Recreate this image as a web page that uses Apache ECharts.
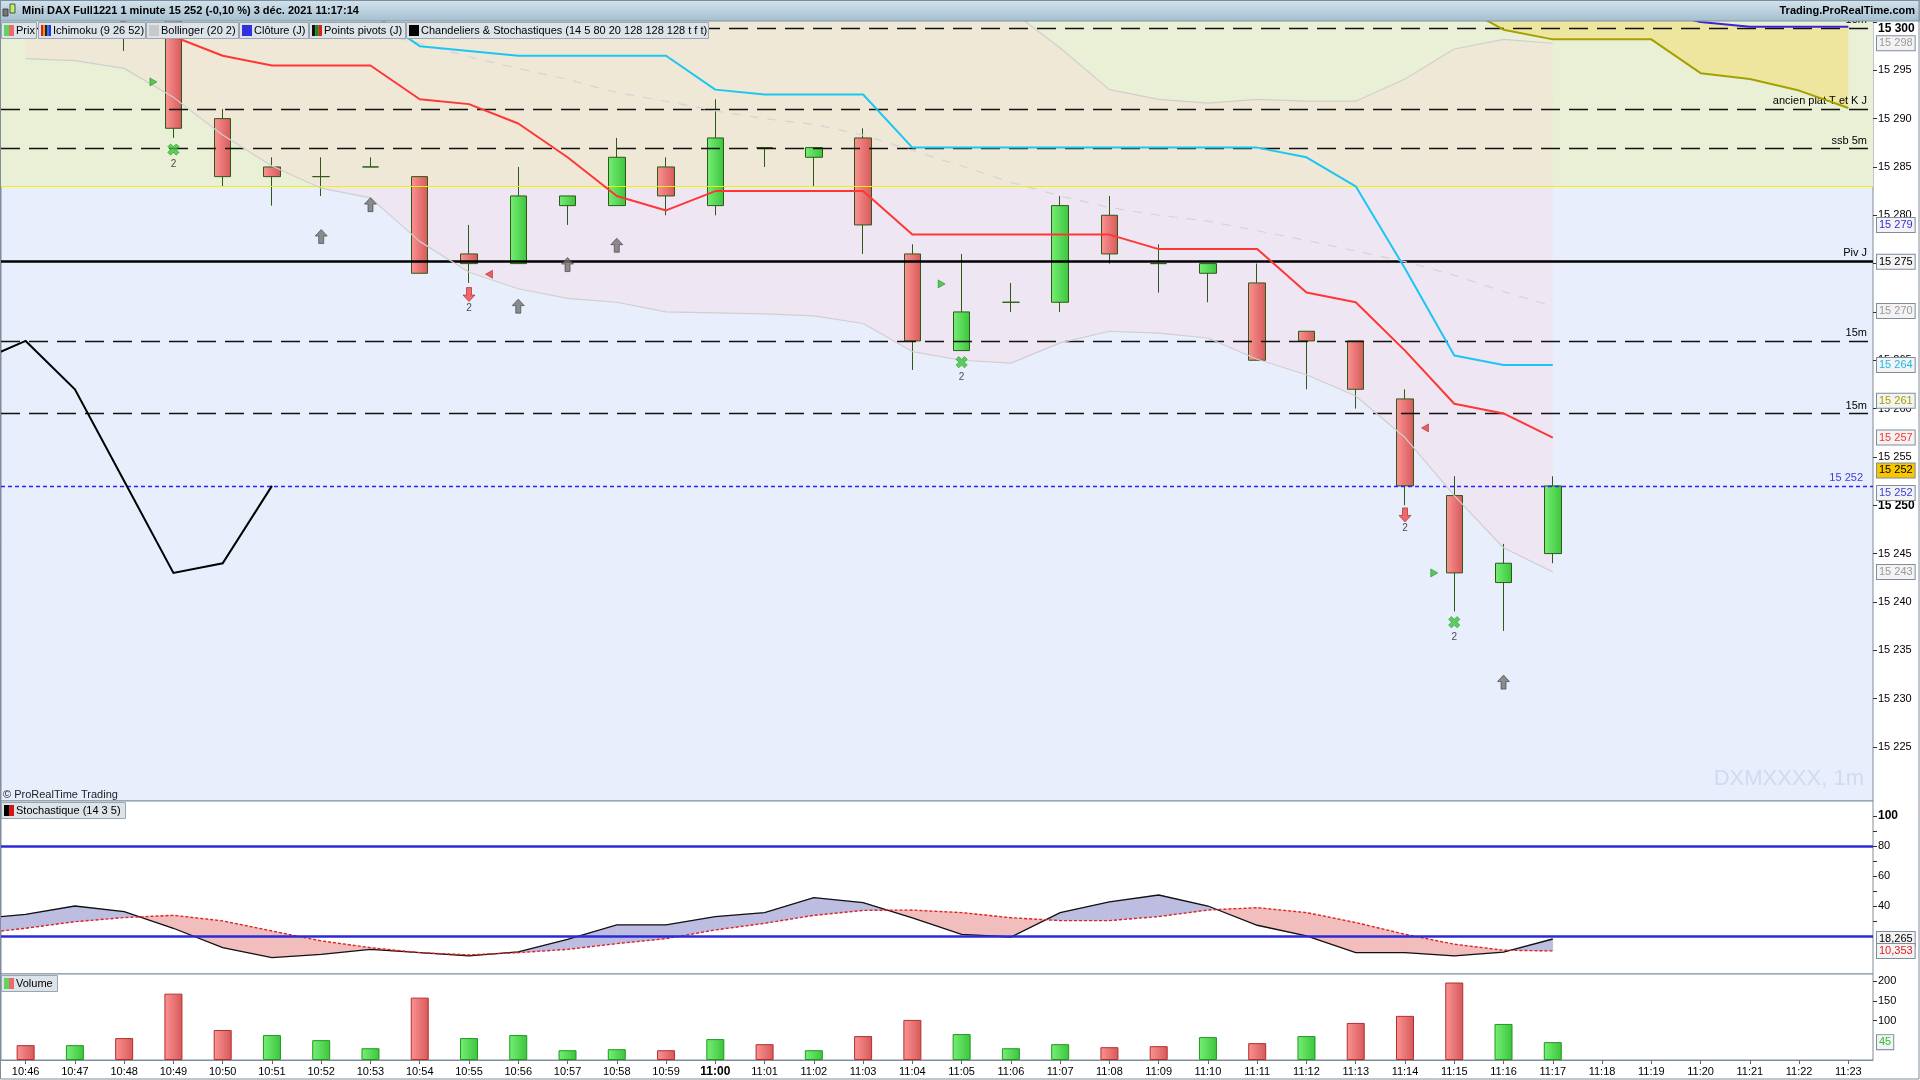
<!DOCTYPE html>
<html>
<head>
<meta charset="utf-8">
<script src="https://cdn.jsdelivr.net/npm/echarts@6/dist/echarts.min.js"></script>
<style>html,body{margin:0;padding:0;background:#fff;overflow:hidden}#c{width:1920px;height:1080px}</style>
</head>
<body>
<div id="c"></div>
<script>
// ---------------- DATA ----------------
const categories = ['10:46','10:47','10:48','10:49','10:50','10:51','10:52','10:53','10:54','10:55','10:56','10:57','10:58','10:59',
  '11:00','11:01','11:02','11:03','11:04','11:05','11:06','11:07','11:08','11:09','11:10','11:11','11:12','11:13','11:14','11:15',
  '11:16','11:17','11:18','11:19','11:20','11:21','11:22','11:23'];

const opens  = [15310,15312,15309,15305,15290,15285,15284,15285,15284,15276,15275,15281,15281,15285,15281,15287,15286,15288,15276,15266,15271,15271,15280,15275,15274,15273,15268,15267,15261,15251,15242,15245];
const closes = [15312,15309,15306,15289,15284,15284,15284,15285,15274,15275,15282,15282,15286,15282,15288,15287,15287,15279,15267,15270,15271,15281,15276,15275,15275,15265,15267,15262,15252,15243,15244,15252];
const lows   = [15306,15307,15297,15288,15283,15281,15282,15285,15274,15273,15275,15279,15281,15280,15280,15285,15283,15276,15264,15266,15270,15270,15275,15272,15271,15265,15262,15260,15250,15239,15237,15244];
const highs  = [15314,15314,15311,15306,15291,15286,15286,15286,15284,15279,15285,15282,15288,15286,15292,15287,15287,15289,15277,15276,15273,15282,15282,15277,15275,15275,15268,15267,15262,15253,15246,15253];

const tenkan = [15303,15302,15300,15298.5,15296.5,15295.5,15295.5,15295.5,15292,15291.5,15289.5,15286,15282,15280.5,15282.5,15282.5,15282.5,15282.5,15278,15278,15278,15278,15278,15276.5,15276.5,15276.5,15272,15271,15266,15260.5,15259.5,15257];
const kijun  = [15304,15304,15303,15302,15301.5,15301.5,15301.5,15301,15297.5,15297,15296.5,15296.5,15296.5,15296.5,15293,15292.5,15292.5,15292.5,15287,15287,15287,15287,15287,15287,15287,15287,15286,15283,15274.5,15265.5,15264.5,15264.5];
const ssa    = [null,null,null,null,null,null,null,null,null,null,null,null,null,null,null,null,null,null,null,null,null,null,null,null,null,null,null,null,15306,15302,15299.2,15298.2,15298.2,15298.2,15294.7,15294.1,15292.9,15291.1];
const ssb    = [null,null,null,null,null,null,null,null,null,null,null,null,null,null,null,null,null,null,null,null,null,null,null,null,null,null,null,null,15306,15305,15304,15303.5,15302.5,15301.2,15300,15299.5,15299.5,15299.5];
const kumoFlat = 15283;

const bbUpper = [15325,15322,15320,15319,15319,15318,15317.6,15316.2,15318.7,15318.7,15318,15316.7,15314.4,15313.6,15311.7,15310.2,15309.2,15307.8,15307.5,15305.2,15301.2,15297.3,15293,15292,15291.6,15292,15291.8,15291.8,15294.1,15297.2,15298.2,15297.8];
const bbMiddle = [15312,15310,15308,15306,15304,15302,15300.2,15299,15297.8,15296.4,15295.2,15294.05,15292.7,15291.8,15290.8,15290,15289.4,15288.3,15286.7,15285.1,15283.4,15282,15280.8,15280,15279.4,15278.4,15277.4,15276.3,15275.2,15273.8,15272.1,15270.6];
const bbLower = [15296.2,15296,15295.2,15292.2,15288.3,15285.1,15282.8,15281.8,15277.3,15274.1,15272.4,15271.4,15271,15270,15269.9,15269.8,15269.6,15268.8,15265.9,15265,15264.7,15266.8,15268,15267.8,15267.3,15265.1,15263.5,15261.3,15257,15251,15245.6,15243.1];

// these three start one bar earlier (10:45, just left of the window)
const blackLine = [15264.8,15267,15262,15252.5,15243,15244,15252];
const stochK = [31.5,34.7,40.2,36.5,25.4,12.5,5.9,8.1,11.4,9.2,7.0,9.7,18.0,27.6,27.6,33.2,35.8,45.8,42.5,32.3,21.4,19.6,35.8,42.9,47.5,40.2,27.4,20.3,9.2,9.2,7.0,9.6,18.265];
const stochD = [21.8,25.4,29.8,32.5,34.0,30.3,23.6,17.0,12.5,9.2,7.7,9.2,11.4,15.2,18.5,24.3,28.7,34.0,37.3,37.5,35.8,32.4,30.5,30.5,33.2,37.5,39.1,35.8,29.2,21.4,14.8,10.8,10.353];
const leadBars = 1;

const levelValues = [15299.4, 15291, 15286.9, 15267, 15259.5];
const levelLabels = ['15m', 'ancien plat T et K J', 'ssb 5m', '15m', '15m'];
const pivotValue = 15275.2;
const pivotLabel = 'Piv J';
const lastPrice = 15252;
const lastPriceLabel = '15 252';

const axisBoxValues = [15297.8, 15279, 15275.2, 15270.1, 15264.5, 15260.8, 15257, 15252, 15252, 15243.1];
const axisBoxTexts  = ['15 298','15 279','15 275','15 270','15 264','15 261','15 257','15 252','15 252','15 243'];

const priceTicks = [15225,15230,15235,15240,15245,15250,15255,15260,15265,15270,15275,15280,15285,15290,15295,15300];

const upArrowPts   = [[6,15277.8],[7,15281.1],[10,15270.6],[11,15274.9],[12,15276.9],[30,15231.7]];
const downArrowPts = [[9,15271.8],[28,15249.0]];
const cloverPts    = [[3,15286.8],[19,15264.8],[29,15237.9]];
const greenTriPts  = [[3,15293.8],[19,15272.9],[29,15243.0]];
const redTriPts    = [[9,15273.9],[28,15258.0]];

const stochLevels = [80, 20];
const stochLabelTicks = [40,60,80,100];
const stochMinorTicks = [30,40,50,60,70,80,90,100];
const stochBoxValues = [18.265, 10.353];
const stochBoxTexts = ['18,265','10,353'];

const volumes = [37.8,37.8,55.8,169,76.4,63.5,50.6,30,158.8,55.8,63.5,24.9,27.5,24.9,53.2,40.3,24.9,60.9,102.1,66.0,30.0,40.3,32.6,35.2,58.3,42.9,60.9,94.4,112.4,197.3,91.8,45.5];
const volDir = ['d','u','d','d','d','u','u','u','d','u','u','u','u','d','u','d','u','d','d','u','u','u','d','d','u','d','u','d','d','d','u','u'];
const volTicks = [100,150,200];
const volBoxValue = 45.5;
const volBoxText = '45';

// ---------------- CHART ----------------
const FONT = '"Liberation Sans", Arial, sans-serif';
const chart = echarts.init(document.getElementById('c'), null, {renderer:'canvas'});
const LG = (a,b) => new echarts.graphic.LinearGradient(0,0,1,0,[{offset:0,color:a},{offset:1,color:b}]);
const G_UP = LG('#76ef76','#3cc43c');
const G_DN = LG('#fb9393','#d65959');
const fmt = v => String(v).replace(/\B(?=(\d{3})+(?!\d))/g, ' ');
const nulls = categories.map(() => null);

const candleData = opens.map((o,i) => [o, closes[i], lows[i], highs[i]]);

function bandFill(upper, lower, fill, z) {
  return {
    type:'custom', xAxisIndex:0, yAxisIndex:0, z, clip:true, silent:true, animation:false,
    data:[[0, 15260]],
    renderItem(params, api) {
      const a = [], b = [];
      for (let i = 0; i < upper.length; i++) {
        if (upper[i] == null || lower[i] == null) continue;
        a.push(api.coord([i, upper[i]]));
        b.push(api.coord([i, lower[i]]));
      }
      return {type:'polygon', shape:{points:a.concat(b.reverse())}, style:{fill}};
    }
  };
}

// polyline through the axis scales, first point one bar before the first category
function leadLine(values, xi, yi, z, stroke, width, dash) {
  return {
    type:'custom', xAxisIndex:xi, yAxisIndex:yi, z, clip:true, silent:true, animation:false,
    data:[[0, values[1]]],
    renderItem(params, api) {
      const pts = values.map((v, i) => api.coord([i - leadBars, v]));
      return {type:'polyline', shape:{points:pts}, style:{stroke, lineWidth:width, fill:null, lineDash:dash || null}};
    }
  };
}

function stochFill() {
  return {
    type:'custom', xAxisIndex:1, yAxisIndex:1, z:2, clip:true, silent:true, animation:false,
    data:[[0, 50]],
    renderItem(params, api) {
      const children = [];
      const BLUE = '#bdbde2', PINK = '#f2bdbd';
      for (let i = 0; i < stochK.length - 1; i++) {
        const x0 = i - leadBars, x1 = i + 1 - leadBars;
        const k0 = api.coord([x0, stochK[i]]), k1 = api.coord([x1, stochK[i+1]]);
        const d0 = api.coord([x0, stochD[i]]), d1 = api.coord([x1, stochD[i+1]]);
        const s0 = stochK[i] - stochD[i], s1 = stochK[i+1] - stochD[i+1];
        if (s0 * s1 >= 0) {
          const col = (s0 + s1) >= 0 ? BLUE : PINK;
          children.push({type:'polygon', shape:{points:[k0,k1,d1,d0]}, style:{fill:col, stroke:col, lineWidth:0.6}});
        } else {
          const t = s0 / (s0 - s1);
          const c = [k0[0] + t*(k1[0]-k0[0]), k0[1] + t*(k1[1]-k0[1])];
          const c0 = s0 > 0 ? BLUE : PINK, c1 = s1 > 0 ? BLUE : PINK;
          children.push({type:'polygon', shape:{points:[k0,c,d0]}, style:{fill:c0, stroke:c0, lineWidth:0.6}});
          children.push({type:'polygon', shape:{points:[c,k1,d1]}, style:{fill:c1, stroke:c1, lineWidth:0.6}});
        }
      }
      return {type:'group', children};
    }
  };
}

function lineSeries(data, color, width, z, type, xi, yi) {
  return {type:'line', xAxisIndex:xi||0, yAxisIndex:yi||0, data, z, symbol:'none', showSymbol:false, silent:true,
    animation:false, connectNulls:false, clip:true, lineStyle:{color, width, type:type||'solid'}};
}

function box(v, text, color, bg, offY) {
  return {yAxis:v, lineStyle:{color:'rgba(0,0,0,0)', width:1, type:'solid'},
    label:{show:true, position:'end', distance:4, formatter:text, color, fontSize:11, fontFamily:FONT,
      backgroundColor:bg||'#f3f3f3', borderColor:'#7d8d9c', borderWidth:1, padding:[2,2,1,2], offset:[0, offY||0]}};
}

const ARROW = 'path://M6,0L12,6L8.5,6L8.5,13L3.5,13L3.5,6L0,6Z';
const CLOVER = 'path://M4,0L8,0L8,4L12,4L12,8L8,8L8,12L4,12L4,8L0,8L0,4L4,4Z';
const label2 = {show:true, position:'bottom', distance:1, formatter:'2', fontSize:10, color:'#222', fontFamily:FONT};

const levelLine = (v, lab) => ({yAxis:v, lineStyle:{color:'#111', width:1.3, type:[19,9]},
  label:{show:true, position:'insideEndTop', formatter:lab, color:'#000', fontSize:11, fontFamily:FONT, distance:[6,2]}});

const series = [
  {type:'line', xAxisIndex:0, yAxisIndex:0, data:nulls, z:1, silent:true, animation:false,
    markArea:{silent:true, animation:false, itemStyle:{color:'#eaf0d6'}, data:[[{yAxis:kumoFlat},{yAxis:15300.1}]]},
    markLine:{silent:true, animation:false, symbol:['none','none'], label:{show:false},
      data:[{yAxis:kumoFlat, lineStyle:{color:'#f2f200', width:1, type:'solid'}}]}},
  bandFill(bbUpper, bbLower, 'rgba(255,209,214,0.27)', 2),
  bandFill(ssb, ssa, '#eee69e', 2),
  {type:'candlestick', xAxisIndex:0, yAxisIndex:0, z:4, barWidth:17, data:candleData, silent:true, animation:false, clip:true,
    itemStyle:{color:G_UP, color0:G_DN, borderColor:'#2d5a16', borderColor0:'#2d5a16', borderColorDoji:'#2d5a16', borderWidth:1}},
  lineSeries(bbUpper, '#cfcfcf', 1.2, 5),
  lineSeries(bbLower, '#cfcfcf', 1.2, 5),
  lineSeries(bbMiddle, '#d4d4d8', 1.2, 5, [9,9]),
  lineSeries(ssa, '#a3a000', 2, 6),
  lineSeries(ssb, '#3b22d4', 2, 6),
  lineSeries(kijun, '#1cc6f2', 2, 6),
  lineSeries(tenkan, '#ff3636', 2, 6),
  leadLine(blackLine, 0, 0, 6, '#000', 2),
  {type:'line', xAxisIndex:0, yAxisIndex:0, data:nulls, z:8, silent:true, animation:false,
    markLine:{silent:true, animation:false, symbol:['none','none'], precision:2,
      data: levelValues.map((v,i) => levelLine(v, levelLabels[i])).concat([
        {yAxis:pivotValue, lineStyle:{color:'#000', width:2.5, type:'solid'},
          label:{show:true, position:'insideEndTop', formatter:pivotLabel, color:'#000', fontSize:11, fontFamily:FONT, distance:[6,3]}},
        {yAxis:lastPrice, lineStyle:{color:'#2424ff', width:1.4, type:[4,3]},
          label:{show:true, position:'insideEndTop', formatter:lastPriceLabel, color:'#3c3ce0', fontSize:11, fontFamily:FONT, distance:[10,2]}}
      ])}},
  {type:'scatter', xAxisIndex:0, yAxisIndex:0, z:9, silent:true, animation:false, symbol:ARROW, symbolSize:[12,14],
    data:upArrowPts, itemStyle:{color:'#727272', borderColor:'#3e3e3e', borderWidth:0.8}},
  {type:'scatter', xAxisIndex:0, yAxisIndex:0, z:9, silent:true, animation:false, symbol:ARROW, symbolSize:[12,14], symbolRotate:180,
    data:downArrowPts, itemStyle:{color:'#ea4848', borderColor:'#b01e1e', borderWidth:0.8}, label:label2},
  {type:'scatter', xAxisIndex:0, yAxisIndex:0, z:9, silent:true, animation:false, symbol:CLOVER, symbolSize:[12,12], symbolRotate:45,
    data:cloverPts, itemStyle:{color:'#38c438', borderColor:'#1c8a1c', borderWidth:0.6}, label:label2},
  {type:'scatter', xAxisIndex:0, yAxisIndex:0, z:9, silent:true, animation:false, symbol:'triangle', symbolSize:[8,7], symbolRotate:-90,
    symbolOffset:[-20,0], data:greenTriPts, itemStyle:{color:'#2ec02e', borderColor:'#127812', borderWidth:0.6}},
  {type:'scatter', xAxisIndex:0, yAxisIndex:0, z:9, silent:true, animation:false, symbol:'triangle', symbolSize:[8,7], symbolRotate:90,
    symbolOffset:[20,0], data:redTriPts, itemStyle:{color:'#ea3a3a', borderColor:'#9a1a1a', borderWidth:0.6}},
  {type:'line', xAxisIndex:0, yAxisIndex:0, data:nulls, z:10, silent:true, animation:false,
    markLine:{silent:true, animation:false, symbol:['none','none'], data:[
      box(axisBoxValues[0], axisBoxTexts[0], '#9a9a9a'),
      box(axisBoxValues[1], axisBoxTexts[1], '#3a2ad8'),
      box(axisBoxValues[2], axisBoxTexts[2], '#000'),
      box(axisBoxValues[3], axisBoxTexts[3], '#9a9a9a'),
      box(axisBoxValues[4], axisBoxTexts[4], '#19b9ea'),
      box(axisBoxValues[5], axisBoxTexts[5], '#a3a000'),
      box(axisBoxValues[6], axisBoxTexts[6], '#ff3030'),
      box(axisBoxValues[7], axisBoxTexts[7], '#000', '#f7c600', -15.5),
      box(axisBoxValues[8], axisBoxTexts[8], '#3c3ce0', '#f3f3f3', 7),
      box(axisBoxValues[9], axisBoxTexts[9], '#9a9a9a')
    ]}},
  stochFill(),
  leadLine(stochK, 1, 1, 4, '#111', 1.3),
  leadLine(stochD, 1, 1, 4, '#e02424', 1.4, [3,2]),
  {type:'line', xAxisIndex:1, yAxisIndex:1, data:nulls, z:5, silent:true, animation:false,
    markLine:{silent:true, animation:false, symbol:['none','none'],
      data: stochLevels.map(v => ({yAxis:v, label:{show:false}, lineStyle:{color:'#2b2bd6', width:2.5, type:'solid'}})).concat([
        box(stochBoxValues[0], stochBoxTexts[0], '#000'),
        box(stochBoxValues[1], stochBoxTexts[1], '#e01e1e')
      ])}},
  {type:'bar', xAxisIndex:2, yAxisIndex:2, barWidth:18, silent:true, animation:false,
    data: volumes.map((v,i) => ({value:v, itemStyle: volDir[i] === 'u'
      ? {color:G_UP, borderColor:'#1f9a1f', borderWidth:1}
      : {color:G_DN, borderColor:'#b42e2e', borderWidth:1}})),
    markLine:{silent:true, animation:false, symbol:['none','none'], data:[box(volBoxValue, volBoxText, '#2ec42e')]}}
];

const gridBase = {left:1, right:47, show:true, borderColor:'#7f8c99', borderWidth:1};
const hiddenX = (gi) => ({type:'category', gridIndex:gi, data:categories, boundaryGap:true,
  axisLine:{show:false}, axisTick:{show:false}, axisLabel:{show:false}, splitLine:{show:false}});

const option = {
  animation:false,
  textStyle:{fontFamily:FONT},
  grid:[
    Object.assign({top:21, height:780, backgroundColor:'#e8eefc'}, gridBase),
    Object.assign({top:801, height:173, backgroundColor:'#ffffff'}, gridBase),
    Object.assign({top:974, height:86, backgroundColor:'#ffffff'}, gridBase)
  ],
  xAxis:[
    hiddenX(0), hiddenX(1),
    {type:'category', gridIndex:2, data:categories, boundaryGap:true,
      axisLine:{show:true, lineStyle:{color:'#7f8c99', width:1}},
      axisTick:{show:true, alignWithLabel:true, interval:0, length:4, lineStyle:{color:'#666'}},
      axisLabel:{interval:0, fontSize:11, color:'#000', margin:6,
        formatter: v => v === '11:00' ? '{b|11:00}' : v,
        rich:{b:{fontWeight:'bold', fontSize:12, color:'#000'}}},
      splitLine:{show:false}}
  ],
  yAxis:[
    {type:'value', gridIndex:0, position:'right', min:15219.4, max:15300.1, scale:true,
      axisLine:{show:false}, splitLine:{show:false},
      axisTick:{show:true, length:4, customValues:priceTicks, lineStyle:{color:'#333'}},
      axisLabel:{customValues:priceTicks, fontSize:11, color:'#000', margin:5,
        formatter: v => v === 15300 ? '{t|' + fmt(v) + '}' : (v === 15250 ? '{b|' + fmt(v) + '}' : fmt(v)),
        rich:{b:{fontWeight:'bold', fontSize:12, color:'#000'}, t:{fontWeight:'bold', fontSize:12, color:'#000', padding:[13,0,0,0]}}}},
    {type:'value', gridIndex:1, position:'right', min:-5, max:110,
      axisLine:{show:false}, splitLine:{show:false},
      axisTick:{show:true, length:4, customValues:stochMinorTicks, lineStyle:{color:'#333'}},
      axisLabel:{customValues:stochLabelTicks, fontSize:11, color:'#000', margin:5,
        formatter: v => v === 100 ? '{b|100}' : String(v),
        rich:{b:{fontWeight:'bold', fontSize:12, color:'#000'}}}},
    {type:'value', gridIndex:2, position:'right', min:0, max:219,
      axisLine:{show:false}, splitLine:{show:false},
      axisTick:{show:true, length:4, customValues:volTicks, lineStyle:{color:'#333'}},
      axisLabel:{customValues:volTicks, fontSize:11, color:'#000', margin:5}}
  ],
  series,
  graphic: buildGraphics()
};

function legendBox(x, y, w, text, icons) {
  const els = [{type:'rect', z:101, shape:{x:x+0.5, y:y+0.5, width:w, height:16}, style:{fill:'#dce3e9', stroke:'#98a6b2', lineWidth:1}}];
  const iw = 10 / icons.length;
  icons.forEach((c, k) => els.push({type:'rect', z:102, shape:{x:x+3+k*iw, y:y+3, width:iw, height:11}, style:{fill:c}}));
  els.push({type:'text', z:102, x:x+15, y:y+9, style:{text, font:'11px ' + FONT, fill:'#000', verticalAlign:'middle'}});
  return els;
}

function buildGraphics() {
  let g = [
    {type:'rect', z:100, shape:{x:0, y:0, width:1920, height:21},
      style:{fill:new echarts.graphic.LinearGradient(0,0,0,1,[{offset:0,color:'#d4e4ee'},{offset:1,color:'#a3bece'}]), stroke:'#7b94a4', lineWidth:1}},
    {type:'rect', z:101, shape:{x:3, y:9, width:5, height:7}, style:{fill:'#777', stroke:'#333', lineWidth:0.8}},
    {type:'rect', z:101, shape:{x:10, y:4, width:5, height:9}, style:{fill:'#b7f06a', stroke:'#333', lineWidth:0.8}},
    {type:'text', z:101, x:22, y:11, style:{text:'Mini DAX Full1221 1 minute 15 252 (-0,10 %) 3 déc. 2021 11:17:14', font:'bold 11px ' + FONT, fill:'#000', verticalAlign:'middle'}},
    {type:'text', z:101, x:1915, y:11, style:{text:'Trading.ProRealTime.com', font:'bold 11px ' + FONT, fill:'#000', align:'right', verticalAlign:'middle'}},
    {type:'text', z:50, x:3, y:795, style:{text:'© ProRealTime Trading', font:'11px ' + FONT, fill:'#222', verticalAlign:'middle'}},
    {type:'text', z:50, x:1864, y:779, style:{text:'DXMXXXX, 1m', font:'22px ' + FONT, fill:'#d1daf0', align:'right', verticalAlign:'middle'}},
    {type:'rect', z:100, shape:{x:0.5, y:0.5, width:1918.5, height:1078.5}, style:{fill:'none', stroke:'#7f8c99', lineWidth:1}}
  ];
  g = g.concat(legendBox(1, 22, 35, 'Prix', ['#5cd65c','#ee6a6a']));
  g = g.concat(legendBox(38, 22, 107, 'Ichimoku (9 26 52)', ['#e02020','#f09020','#222','#2080f0','#3030d0']));
  g = g.concat(legendBox(146, 22, 92, 'Bollinger (20 2)', ['#c8c8c8']));
  g = g.concat(legendBox(239, 22, 69, 'Clôture (J)', ['#3030e0']));
  g = g.concat(legendBox(309, 22, 96, 'Points pivots (J)', ['#111','#118811','#e02020']));
  g = g.concat(legendBox(406, 22, 302, 'Chandeliers & Stochastiques (14 5 80 20 128 128 128 t f t)', ['#000']));
  g = g.concat(legendBox(1, 802, 124, 'Stochastique (14 3 5)', ['#000','#d01818']));
  g = g.concat(legendBox(1, 975, 56, 'Volume', ['#5cd65c','#ee6a6a']));
  return g;
}

chart.setOption(option);
</script>
</body>
</html>
